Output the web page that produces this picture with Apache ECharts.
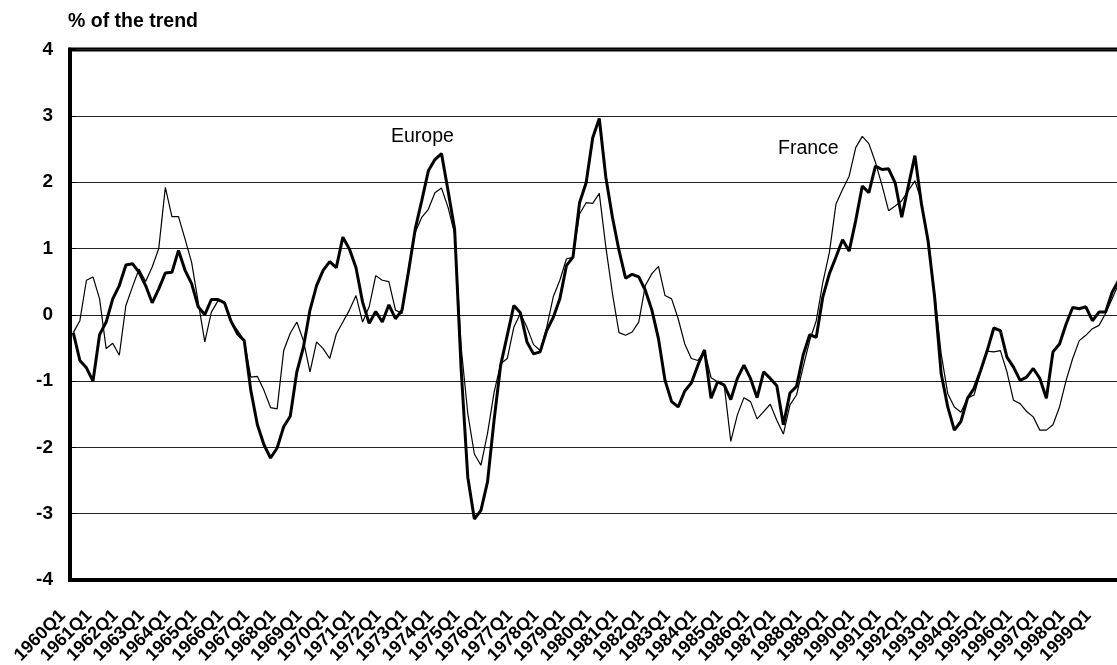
<!DOCTYPE html>
<html>
<head>
<meta charset="utf-8">
<title>% of the trend</title>
<script src="https://cdn.jsdelivr.net/npm/echarts@6/dist/echarts.min.js"></script>
<style>
    html, body { margin: 0; padding: 0; background: #fff; }
    #main { width: 1117px; height: 665px; }
</style>
</head>
<body>
<div id="main"></div>
<script>
// quarters 1960Q1 .. 1999Q4
var years = [];
for (var y = 1960; y <= 1999; y++) { years.push(y); }
var quarters = [];
years.forEach(function (yr) {
    for (var q = 1; q <= 4; q++) { quarters.push(yr + 'Q' + q); }
});

// output gap, % of the trend
var europe = [
    -0.27, -0.69, -0.80, -1.00, -0.30, -0.11, 0.24, 0.44, 0.75, 0.77,
    0.64, 0.44, 0.18, 0.39, 0.63, 0.64, 0.97, 0.67, 0.47, 0.12,
    0.00, 0.23, 0.23, 0.18, -0.10, -0.29, -0.39, -1.14, -1.66, -1.96,
    -2.16, -2.01, -1.69, -1.53, -0.86, -0.49, 0.07, 0.44, 0.67, 0.80,
    0.71, 1.17, 0.99, 0.71, 0.19, -0.13, 0.05, -0.11, 0.15, -0.06,
    0.07, 0.66, 1.29, 1.72, 2.17, 2.34, 2.43, 1.87, 1.29, -0.84,
    -2.45, -3.08, -2.95, -2.52, -1.59, -0.76, -0.31, 0.14, 0.03, -0.41,
    -0.59, -0.56, -0.24, -0.04, 0.24, 0.74, 0.87, 1.69, 1.99, 2.67,
    2.96, 2.07, 1.47, 0.97, 0.55, 0.61, 0.57, 0.37, 0.07, -0.36,
    -0.99, -1.31, -1.39, -1.15, -1.03, -0.76, -0.53, -1.26, -1.01, -1.06,
    -1.28, -0.96, -0.76, -0.96, -1.25, -0.86, -0.96, -1.07, -1.66, -1.18,
    -1.08, -0.61, -0.30, -0.34, 0.27, 0.62, 0.87, 1.13, 0.96, 1.42,
    1.94, 1.84, 2.24, 2.19, 2.20, 1.99, 1.47, 1.94, 2.40, 1.67,
    1.12, 0.27, -0.89, -1.39, -1.74, -1.61, -1.26, -1.11, -0.84, -0.54,
    -0.20, -0.24, -0.64, -0.79, -0.99, -0.94, -0.81, -0.96, -1.26, -0.56,
    -0.44, -0.14, 0.11, 0.09, 0.12, -0.09, 0.04, 0.04, 0.34, 0.52
];
var france = [
    -0.27, -0.09, 0.52, 0.57, 0.24, -0.51, -0.43, -0.61, 0.14, 0.42,
    0.69, 0.50, 0.72, 1.00, 1.92, 1.48, 1.48, 1.14, 0.79, 0.19,
    -0.41, 0.04, 0.21, 0.19, -0.10, -0.24, -0.39, -0.94, -0.93, -1.14,
    -1.40, -1.42, -0.54, -0.28, -0.11, -0.39, -0.86, -0.41, -0.51, -0.66,
    -0.29, -0.11, 0.07, 0.29, -0.11, 0.12, 0.59, 0.52, 0.50, 0.07,
    0.02, 0.72, 1.24, 1.47, 1.59, 1.84, 1.91, 1.62, 1.22, -0.50,
    -1.49, -2.10, -2.27, -1.79, -1.17, -0.74, -0.66, -0.19, 0.02, -0.19,
    -0.45, -0.54, -0.19, 0.27, 0.52, 0.84, 0.87, 1.52, 1.69, 1.68,
    1.83, 1.02, 0.32, -0.27, -0.31, -0.26, -0.11, 0.44, 0.62, 0.73,
    0.29, 0.24, -0.06, -0.44, -0.66, -0.69, -0.54, -0.95, -1.01, -1.06,
    -1.91, -1.51, -1.25, -1.31, -1.57, -1.46, -1.35, -1.59, -1.80, -1.36,
    -1.21, -0.79, -0.39, -0.09, 0.49, 0.94, 1.67, 1.89, 2.09, 2.52,
    2.69, 2.58, 2.30, 1.95, 1.57, 1.64, 1.72, 1.87, 2.02, 1.72,
    1.07, 0.32, -0.59, -1.19, -1.39, -1.47, -1.26, -1.21, -0.86, -0.55,
    -0.56, -0.54, -0.86, -1.29, -1.34, -1.46, -1.54, -1.74, -1.74, -1.66,
    -1.39, -0.99, -0.66, -0.39, -0.31, -0.21, -0.16, 0.02, 0.24, 0.47
];

var font = '"Liberation Sans", Arial, sans-serif';

var myChart = echarts.init(document.getElementById('main'));

var option = {
    animation: false,
    backgroundColor: '#fff',
    title: {
        text: '% of the trend',
        left: 63,
        top: 7,
        textStyle: { fontFamily: font, fontSize: 19.5, fontWeight: 'bold', color: '#000' }
    },
    // plot area runs a little past the right edge of the picture
    grid: {
        left: 70,
        width: 1052,
        top: 49.5,
        bottom: 85,
        show: true,
        borderColor: '#000',
        borderWidth: 4,
        containLabel: false,
        outerBoundsMode: 'none'
    },
    xAxis: {
        type: 'category',
        data: quarters,
        boundaryGap: true,
        axisLine: { onZero: false, lineStyle: { color: '#000', width: 4 } },
        axisTick: { inside: true, length: 7, interval: 3, lineStyle: { color: '#000', width: 2 } },
        axisLabel: {
            interval: 3,
            rotate: 45,
            margin: 35,
            padding: [0, 6, 0, 0],
            verticalAlign: 'bottom',
            hideOverlap: false,
            fontFamily: font,
            fontSize: 18,
            fontWeight: 'bold',
            color: '#000'
        },
        splitLine: { show: false }
    },
    yAxis: {
        type: 'value',
        min: -4,
        max: 4,
        interval: 1,
        axisLine: { show: true, lineStyle: { color: '#000', width: 4 } },
        axisTick: { show: true, inside: true, length: 6, lineStyle: { color: '#000', width: 1 } },
        axisLabel: {
            margin: 17,
            fontFamily: font,
            fontSize: 19,
            fontWeight: 'bold',
            color: '#000'
        },
        splitLine: { show: true, lineStyle: { color: '#222', width: 1 } }
    },
    graphic: [
        { type: 'text', left: 391, top: 127, style: { text: 'Europe', font: '19.5px ' + font, fill: '#000' } },
        { type: 'text', left: 778, top: 139, style: { text: 'France', font: '19.5px ' + font, fill: '#000' } }
    ],
    series: [
        {
            name: 'France',
            type: 'line',
            data: france,
            symbol: 'none',
            lineStyle: { color: '#000', width: 1.2 }
        },
        {
            name: 'Europe',
            type: 'line',
            data: europe,
            symbol: 'none',
            lineStyle: { color: '#000', width: 3 }
        }
    ]
};

myChart.setOption(option);
</script>
</body>
</html>
